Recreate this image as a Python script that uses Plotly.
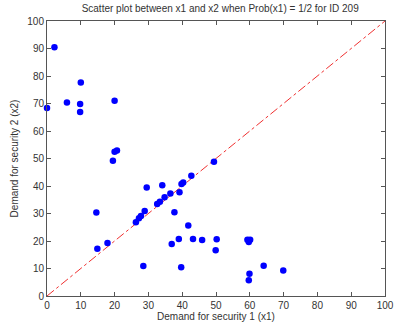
import plotly.graph_objects as go

x1 = [2.2, 0.0, 5.9, 10.0, 9.8, 9.8, 20.0, 20.0, 20.7, 19.5,
      29.5, 34.1, 14.6, 42.7, 40.3, 39.8, 39.2, 36.5, 34.8, 33.4,
      32.6, 28.9, 27.8, 27.2, 26.3, 37.7, 41.8, 17.9, 14.9, 39.0,
      36.9, 43.2, 45.9, 50.2, 49.9, 28.5, 39.7, 49.4, 59.3, 60.1,
      59.7, 64.1, 69.9, 59.9, 59.7]
x2 = [90.5, 68.4, 70.4, 77.6, 69.8, 66.9, 71.0, 52.5, 52.9, 49.2,
      39.5, 40.3, 30.4, 43.7, 41.3, 40.7, 37.7, 37.3, 35.9, 34.3,
      33.5, 30.9, 29.1, 28.3, 26.8, 30.5, 25.6, 19.3, 17.2, 20.7,
      18.9, 20.7, 20.4, 20.6, 16.6, 10.9, 10.5, 48.8, 20.5, 20.5,
      19.6, 11.0, 9.3, 8.1, 5.7]
diag = [0, 100]

fig = go.Figure()
fig.add_trace(go.Scatter(x=diag, y=diag, mode="lines",
                         line=dict(color="#f03030", width=1, dash="dashdot"),
                         hoverinfo="skip"))
fig.add_trace(go.Scatter(x=x1, y=x2, mode="markers", cliponaxis=False,
                         marker=dict(color="blue", size=6.5, line=dict(width=0))))

axis_common = dict(range=[0, 100], dtick=10, ticks="inside", ticklen=4,
                   tickcolor="#555", showline=True, linecolor="#555",
                   linewidth=1, mirror="ticks", showgrid=False, zeroline=False,
                   tickfont=dict(family="Liberation Sans, Arial", size=10, color="#333"))

fig.update_layout(
    width=404, height=332,
    margin=dict(l=47, r=10, t=21, b=36),
    paper_bgcolor="white", plot_bgcolor="white",
    showlegend=False,
    title=dict(text="Scatter plot between x1 and x2 when Prob(x1) = 1/2 for ID 209",
               x=0.545, xanchor="center", y=0.985, yanchor="top",
               font=dict(family="Liberation Sans, Arial", size=10, color="#333")),
    xaxis=dict(**axis_common,
               title=dict(text="Demand for security 1 (x1)", standoff=2,
                          font=dict(family="Liberation Sans, Arial", size=10, color="#333"))),
    yaxis=dict(**axis_common,
               title=dict(text="Demand for security 2 (x2)", standoff=6,
                          font=dict(family="Liberation Sans, Arial", size=10, color="#333"))),
)

fig.write_html("out.html")
